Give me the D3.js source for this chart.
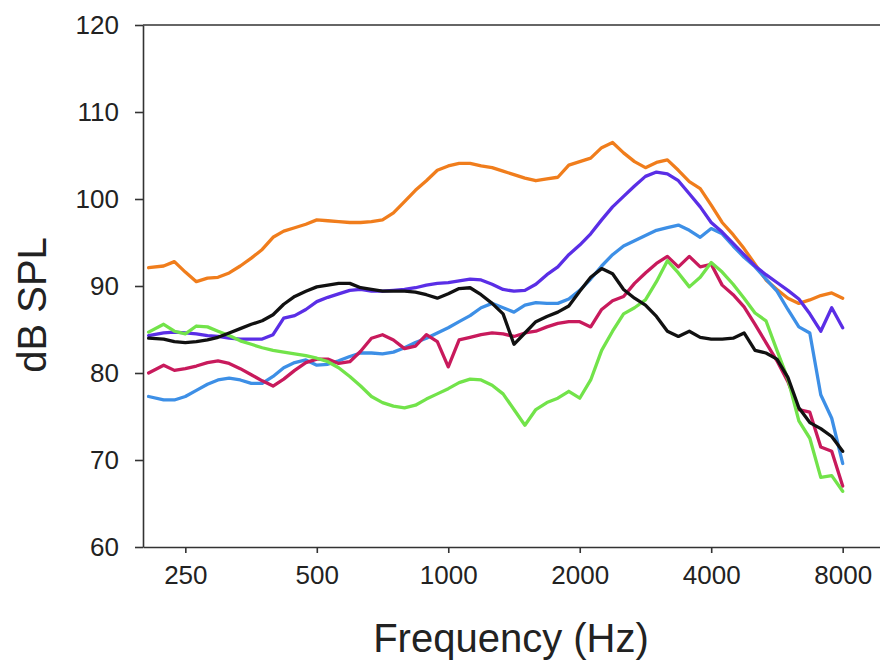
<!DOCTYPE html>
<html>
<head>
<meta charset="utf-8">
<script src="https://cdn.jsdelivr.net/npm/d3@7"></script>
<style>
  body { margin: 0; background: #fff; }
  svg { display: block; font-family: "Liberation Sans", Arial, sans-serif; }
</style>
</head>
<body>
<script>
// frequencies (Hz), roughly 1/12 octave steps
var freqs = [206, 223, 236, 250, 265, 281, 297, 315, 334, 354, 375, 397, 420, 445, 472, 500,
  530, 561, 595, 630, 667, 707, 749, 794, 841, 891, 944, 1000, 1059, 1122, 1189, 1260,
  1335, 1414, 1498, 1587, 1682, 1782, 1888, 2000, 2119, 2245, 2378, 2520, 2670, 2828,
  2997, 3175, 3364, 3564, 3775, 4000, 4238, 4490, 4757, 5040, 5339, 5657, 5993, 6350,
  6727, 7127, 7551, 8000];

var orangeVals = [92.1, 92.3, 92.8, 91.6, 90.5, 90.9, 91.0, 91.5, 92.3, 93.2, 94.2, 95.6, 96.3, 96.7, 97.1, 97.6,
  97.5, 97.4, 97.3, 97.3, 97.4, 97.6, 98.4, 99.7, 101.0, 102.1, 103.3, 103.8, 104.1, 104.1, 103.8, 103.6,
  103.2, 102.8, 102.4, 102.1, 102.3, 102.5, 103.9, 104.3, 104.7, 105.9, 106.5, 105.3, 104.3, 103.6,
  104.2, 104.5, 103.3, 102.0, 101.2, 99.3, 97.3, 95.9, 94.3, 92.5, 90.7, 89.6, 88.6, 88.0,
  88.4, 88.9, 89.2, 88.6];

var purpleVals = [84.3, 84.6, 84.7, 84.6, 84.5, 84.3, 84.2, 84.0, 83.9, 83.9, 83.9, 84.4, 86.3, 86.6, 87.3, 88.2,
  88.7, 89.1, 89.5, 89.6, 89.4, 89.4, 89.5, 89.6, 89.8, 90.1, 90.3, 90.4, 90.6, 90.8, 90.7, 90.2,
  89.6, 89.4, 89.5, 90.2, 91.3, 92.2, 93.6, 94.7, 96.0, 97.6, 99.1, 100.3, 101.5, 102.6,
  103.1, 102.9, 102.1, 100.6, 99.1, 97.3, 96.2, 94.9, 93.6, 92.3, 91.3, 90.4, 89.5, 88.5,
  86.8, 84.8, 87.5, 85.2];

var blueVals = [77.3, 76.9, 76.9, 77.3, 78.0, 78.7, 79.2, 79.4, 79.2, 78.8, 78.8, 79.6, 80.6, 81.2, 81.5, 80.9,
  81.0, 81.4, 81.9, 82.3, 82.3, 82.2, 82.4, 82.9, 83.5, 84.0, 84.6, 85.2, 85.9, 86.6, 87.5, 88.0,
  87.5, 87.0, 87.8, 88.1, 88.0, 88.0, 88.5, 89.5, 90.8, 92.3, 93.6, 94.6, 95.2, 95.8,
  96.4, 96.7, 97.0, 96.4, 95.6, 96.6, 96.0, 94.6, 93.3, 92.2, 90.8, 89.4, 87.3, 85.3,
  84.6, 77.5, 74.8, 69.6];

var blackVals = [84.0, 83.9, 83.6, 83.5, 83.6, 83.8, 84.1, 84.6, 85.1, 85.6, 86.0, 86.7, 87.9, 88.8, 89.4, 89.9,
  90.1, 90.3, 90.3, 89.8, 89.6, 89.4, 89.4, 89.4, 89.3, 89.0, 88.6, 89.1, 89.7, 89.8, 89.0, 88.0,
  86.8, 83.3, 84.6, 85.9, 86.5, 87.0, 87.7, 89.4, 91.0, 92.0, 91.4, 89.6, 88.6, 87.8,
  86.5, 84.8, 84.2, 84.8, 84.1, 83.9, 83.9, 84.0, 84.6, 82.6, 82.3, 81.6, 79.5, 76.0,
  74.3, 73.6, 72.7, 71.0];

var crimsonVals = [80.0, 80.9, 80.3, 80.5, 80.8, 81.2, 81.4, 81.1, 80.5, 79.8, 79.1, 78.5, 79.3, 80.3, 81.2, 81.6,
  81.6, 81.1, 81.3, 82.5, 84.0, 84.4, 83.8, 82.8, 83.1, 84.4, 83.6, 80.7, 83.8, 84.1, 84.4, 84.6,
  84.5, 84.2, 84.6, 84.8, 85.3, 85.7, 85.9, 85.9, 85.3, 87.3, 88.3, 88.8, 90.3, 91.5,
  92.6, 93.4, 92.2, 93.4, 92.2, 92.5, 90.1, 89.0, 87.6, 85.6, 83.5, 81.4, 79.0, 75.8,
  75.5, 71.5, 71.0, 67.0];

var greenVals = [84.7, 85.6, 84.8, 84.5, 85.4, 85.3, 84.8, 84.3, 83.7, 83.3, 82.9, 82.6, 82.4, 82.2, 82.0, 81.7,
  81.3, 80.6, 79.6, 78.5, 77.3, 76.6, 76.2, 76.0, 76.3, 77.0, 77.6, 78.2, 78.9, 79.3, 79.2, 78.6,
  77.6, 75.8, 74.0, 75.8, 76.6, 77.1, 77.9, 77.1, 79.2, 82.6, 84.8, 86.8, 87.5, 88.4,
  90.5, 92.9, 91.5, 89.9, 91.0, 92.7, 91.6, 90.2, 88.6, 86.9, 86.0, 82.6, 79.3, 74.5,
  72.5, 68.0, 68.2, 66.4];

var xTicks = [250, 500, 1000, 2000, 4000, 8000];
var yTicks = [60, 70, 80, 90, 100, 110, 120];

var series = [
  {vals: orangeVals, color: '#f07d1c'},
  {vals: blueVals, color: '#3d8fe6'},
  {vals: crimsonVals, color: '#c81a5c'},
  {vals: purpleVals, color: '#5a2ee6'},
  {vals: greenVals, color: '#72e34a'},
  {vals: blackVals, color: '#111111'}
];

var width = 880, height = 665;

var svg = d3.select('body').append('svg')
  .attr('width', width)
  .attr('height', height);

// plot box runs off the right edge of the picture
var x = d3.scaleLog().domain([200, 10000]).range([143, 885]);
var y = d3.scaleLinear().domain([60, 120]).range([547, 25]);

// top border
svg.append('line')
  .attr('x1', 143).attr('x2', 885)
  .attr('y1', y(120)).attr('y2', y(120))
  .attr('stroke', '#333').attr('stroke-width', 1.6);

var xAxis = svg.append('g')
  .attr('transform', 'translate(0,' + y(60) + ')')
  .call(d3.axisBottom(x).tickValues(xTicks).tickFormat(d3.format('d')).tickSize(6).tickSizeOuter(0).tickPadding(13));

var yAxis = svg.append('g')
  .attr('transform', 'translate(' + x(200) + ',0)')
  .call(d3.axisLeft(y).tickValues(yTicks).tickSize(8).tickSizeOuter(0).tickPadding(16));

[xAxis, yAxis].forEach(function(g){
  g.selectAll('path, line').attr('stroke', '#333').attr('stroke-width', 1.6);
  g.selectAll('text')
    .attr('fill', '#222')
    .style('font-size', '26px')
    .style('font-family', '"Liberation Sans", Arial, sans-serif');
});

var line = d3.line()
  .x(function(d, i){ return x(freqs[i]) })
  .y(function(d){ return y(d) });

svg.selectAll('path.series')
  .data(series)
  .enter()
  .append('path')
  .attr('class', 'series')
  .attr('d', function(s){ return line(s.vals) })
  .attr('fill', 'none')
  .attr('stroke', function(s){ return s.color })
  .attr('stroke-width', 3.3)
  .attr('stroke-linejoin', 'round')
  .attr('stroke-linecap', 'round');

// axis titles
svg.append('text')
  .attr('x', 511).attr('y', 652)
  .attr('text-anchor', 'middle')
  .attr('fill', '#222')
  .style('font-size', '40px')
  .text('Frequency (Hz)');

svg.append('text')
  .attr('transform', 'translate(46,305) rotate(-90)')
  .attr('text-anchor', 'middle')
  .attr('fill', '#222')
  .style('font-size', '40px')
  .text('dB SPL');
</script>
</body>
</html>
